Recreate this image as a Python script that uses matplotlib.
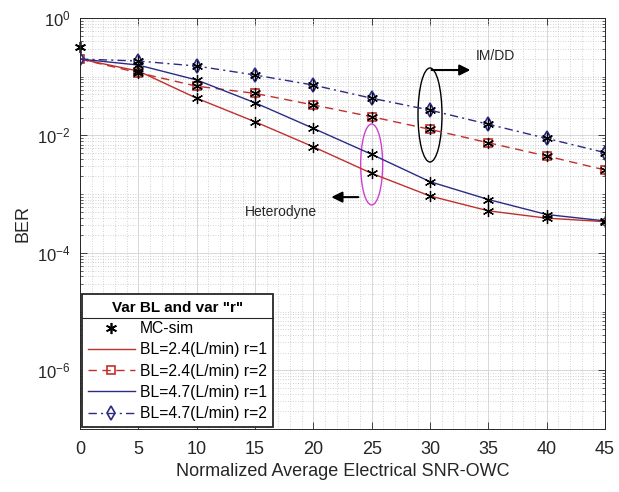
import numpy as np
import matplotlib.pyplot as plt
from matplotlib.patches import Ellipse
from matplotlib.lines import Line2D
from matplotlib.ticker import LogLocator, MultipleLocator, NullFormatter

plt.rcParams['font.family'] = ['Liberation Sans', 'DejaVu Sans']
plt.rcParams['mathtext.fontset'] = 'custom'
plt.rcParams['mathtext.rm'] = 'Liberation Sans'
plt.rcParams['mathtext.it'] = 'Liberation Sans'

snr = [0, 5, 10, 15, 20, 25, 30, 35, 40, 45]
ber_24_r1 = [0.2, 0.125, 0.043, 0.0171, 0.0064, 0.00226, 0.00093, 0.00052, 0.00039, 0.00034]
ber_24_r2 = [0.2, 0.117, 0.069, 0.052, 0.033, 0.0208, 0.0127, 0.0075, 0.00446, 0.00258]
ber_47_r1 = [0.2, 0.158, 0.088, 0.036, 0.0132, 0.00476, 0.00163, 0.00081, 0.00045, 0.00035]
ber_47_r2 = [0.2, 0.185, 0.152, 0.107, 0.072, 0.043, 0.027, 0.0155, 0.0089, 0.0051]
mc_start_x = [0]
mc_start_y = [0.32]

red = '#c0302c'
blue = '#2b2b86'

fig = plt.figure(figsize=(6.19, 4.92), dpi=100)
ax = fig.add_axes([80 / 619, 1 - 429 / 492, 525 / 619, 411 / 492])

ax.plot(snr, ber_24_r1, '-', color=red, lw=1.0, label='BL=2.4(L/min) r=1')
ax.plot(snr, ber_24_r2, '--', color=red, lw=1.0, marker='s', ms=6, mfc='none',
        mec=red, mew=1.2, label='BL=2.4(L/min) r=2', dashes=(6, 4))
ax.plot(snr, ber_47_r1, '-', color=blue, lw=1.0, label='BL=4.7(L/min) r=1')
ax.plot(snr, ber_47_r2, '-.', color=blue, lw=1.0, marker='d', ms=7, mfc='none',
        mec=blue, mew=1.2, label='BL=4.7(L/min) r=2', dashes=(6, 3, 1.5, 3))

star = (6, 2, 0)
for ys in [ber_24_r1, ber_24_r2, ber_47_r1, ber_47_r2]:
    ax.plot(snr[1:], ys[1:], ls='none', marker=star, ms=8, color='black', mew=0.9)
ax.plot(mc_start_x, mc_start_y, ls='none', marker=star, ms=8, color='black',
        mew=1.2, label='MC-sim', clip_on=False)

ax.set_yscale('log')
ax.set_xlim(0, 45)
ax.set_ylim(1e-7, 1)
ax.set_xticks(range(0, 50, 5))
ax.xaxis.set_minor_locator(MultipleLocator(1))
ax.set_yticks([1e-6, 1e-4, 1e-2, 1])
ax.yaxis.set_minor_locator(LogLocator(base=10, subs=np.arange(1, 10), numticks=20))
ax.yaxis.set_minor_formatter(NullFormatter())
ax.set_yticklabels([r'$10^{-6}$', r'$10^{-4}$', r'$10^{-2}$', r'$10^{0}$'])

ax.tick_params(which='both', direction='in', top=True, right=True, colors='#262626',
               labelcolor='#262626')
ax.tick_params(axis='x', labelsize=13, pad=9)
ax.tick_params(axis='y', labelsize=12, pad=7)
ax.tick_params(which='major', length=5, width=0.6)
ax.tick_params(which='minor', length=2.5, width=0.5)
ax.tick_params(axis='x', which='minor', length=0)
for sp in ax.spines.values():
    sp.set_color('#262626')
    sp.set_linewidth(0.7)

ax.grid(True, which='major', color='#d8d8d8', lw=0.7, ls='-')
ax.grid(True, which='minor', color='#c4c4c4', lw=0.6, ls=(0, (1, 2)))
ax.set_axisbelow(True)

ax.set_xlabel('Normalized Average Electrical SNR-OWC', fontsize=13, color='#262626', labelpad=3)
ax.set_ylabel('BER', fontsize=13, color='#262626', labelpad=4)

# annotations
def axes_frac(x, y):
    return (ax.transData + ax.transAxes.inverted()).transform((x, y))

cx, cy = axes_frac(30, 0.0223)
ax.add_patch(Ellipse((cx, cy), 24 / 525, 94 / 411, transform=ax.transAxes,
                     fill=False, ec='black', lw=1.0))
cx2, cy2 = axes_frac(25, 0.0032)
ax.add_patch(Ellipse((cx2, cy2), 22 / 525, 81 / 411, transform=ax.transAxes,
                     fill=False, ec='#d040d0', lw=1.0))

ax.annotate('', xy=(33.7, 0.13), xytext=(29.9, 0.13),
            arrowprops=dict(arrowstyle='-|>', color='black', lw=1.5, mutation_scale=16))
ax.text(33.9, 0.225, 'IM/DD', fontsize=10, ha='left', va='center', color='#262626')
ax.annotate('', xy=(21.3, 0.00089), xytext=(24.1, 0.00089),
            arrowprops=dict(arrowstyle='-|>', color='black', lw=1.5, mutation_scale=16))
ax.text(14.1, 0.0005, 'Heterodyne', fontsize=10, ha='left', va='center', color='#262626')

handles, labels = ax.get_legend_handles_labels()
order = [4, 0, 1, 2, 3]
leg = ax.legend([handles[i] for i in order], [labels[i] for i in order],
                loc='lower left', bbox_to_anchor=(0, 0), borderaxespad=0.1,
                fontsize=11.3, title='Var BL and var "r"',
                title_fontproperties={'weight': 'bold', 'size': 11},
                frameon=True, fancybox=False, framealpha=1, edgecolor='#262626',
                handlelength=3.0, labelspacing=0.4, handletextpad=0.3, borderpad=0.4)
leg.get_frame().set_linewidth(1.3)

fig.canvas.draw()
fb = leg.get_frame().get_window_extent()
tb = leg.get_title().get_window_extent()
ysep = tb.y0 - 3
inv = fig.transFigure.inverted()
p0 = inv.transform((fb.x0, ysep))
p1 = inv.transform((fb.x1, ysep))
fig.add_artist(Line2D([p0[0], p1[0]], [p0[1], p1[1]], transform=fig.transFigure,
                      color='#262626', lw=0.8))

fig.savefig('out.png', dpi=100)
